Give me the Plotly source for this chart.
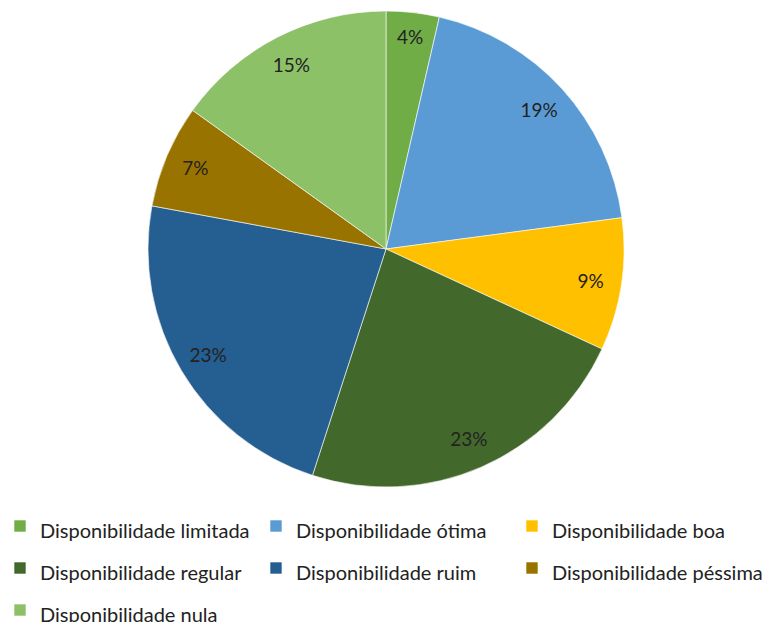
import plotly.graph_objects as go

labels = ["Disponibilidade limitada", "Disponibilidade ótima", "Disponibilidade boa",
          "Disponibilidade regular", "Disponibilidade ruim", "Disponibilidade péssima",
          "Disponibilidade nula"]
values = [3.6, 19.3, 9.0, 23.1, 22.9, 7.0, 15.1]
colors = ["#70AD47", "#5B9BD5", "#FFC000", "#43682B", "#255E91", "#997300", "#8CC168"]

W, H = 769, 622
LEGEND_TEXT_PX = 20
legend_labels = [f"<span style='font-size:{LEGEND_TEXT_PX}px'>{t}</span>" for t in labels]
dom = dict(x=[148 / W, 624 / W], y=[(H - 487) / H, (H - 11) / H])

fig = go.Figure()
# coloured slices + legend
fig.add_trace(go.Pie(
    labels=legend_labels, values=values, sort=False, direction="clockwise", rotation=0,
    marker=dict(colors=colors, line=dict(color="white", width=0.6)),
    textinfo="none", hoverinfo="skip", domain=dom, showlegend=True,
))
# transparent ring carrying the percentage labels near the rim
fig.add_trace(go.Pie(
    labels=legend_labels, values=values, sort=False, direction="clockwise", rotation=0,
    hole=0.74, marker=dict(colors=["rgba(0,0,0,0)"] * len(values), line=dict(width=0)),
    texttemplate="%{percent:.0%}", textposition="inside", insidetextorientation="horizontal",
    textfont=dict(family="Lato", size=19, color="#222222"),
    domain=dom, showlegend=False, hoverinfo="skip",
))
fig.update_layout(
    width=W, height=H, margin=dict(l=0, r=0, t=0, b=0, autoexpand=False),
    paper_bgcolor="white", plot_bgcolor="white",
    font=dict(family="Lato", size=17, color="#222222"),
    legend=dict(orientation="h", x=0, y=(H - 500) / H, xanchor="left", yanchor="top",
                entrywidth=211, entrywidthmode="pixels", traceorder="normal",
                font=dict(family="Lato", size=30, color="#222222")),
)
fig.write_html("out.html", config={"displayModeBar": False},
               post_script="document.body.style.margin='0px';document.body.style.overflow='hidden';")
